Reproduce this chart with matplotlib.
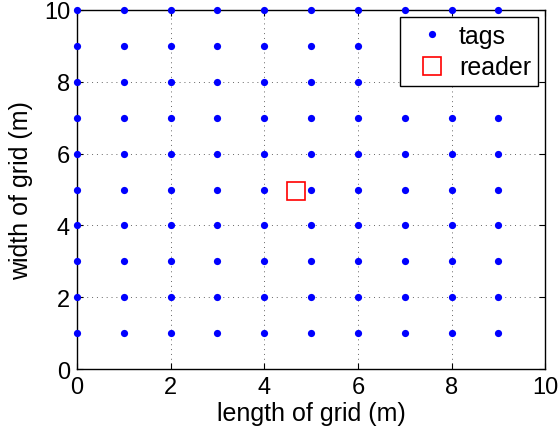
import matplotlib
matplotlib.use("Agg")
import matplotlib.pyplot as plt
import numpy as np

tag_x = [0, 1, 2, 3, 4, 5, 6, 7, 8, 9]
tag_y = [1, 2, 3, 4, 5, 6, 7, 8, 9, 10]
reader_x = [4.67]
reader_y = [4.96]
xticks = [0, 2, 4, 6, 8, 10]
yticks = [0, 2, 4, 6, 8, 10]

plt.rcParams['font.family'] = ['Liberation Sans', 'DejaVu Sans']

fig = plt.figure(figsize=(5.58, 4.31), dpi=100)
ax = fig.add_axes([0.138, 0.1415, 0.839, 0.833])

gx, gy = np.meshgrid(tag_x, tag_y)
ax.plot(gx.ravel(), gy.ravel(), 'o', color='#0000ff', markersize=5.2,
        markeredgewidth=0, linestyle='none', label='tags', clip_on=False, zorder=3)
ax.plot(reader_x, reader_y, 's', markerfacecolor='none', markeredgecolor='#ff0000',
        markersize=12.5, markeredgewidth=1.2, linestyle='none', label='reader', zorder=3)

ax.set_xlim(0, 10)
ax.set_ylim(0, 10)
ax.set_xticks(xticks)
ax.set_yticks(yticks)
ax.grid(True, linestyle=(0, (1, 4)), color='#666666', linewidth=0.7)
ax.tick_params(direction='in', top=True, right=True, labelsize=17, length=4, width=0.8, pad=5)
for s in ax.spines.values():
    s.set_linewidth(1.0)
ax.set_xlabel('length of grid (m)', fontsize=18, labelpad=2)
ax.set_ylabel('width of grid (m)', fontsize=18, labelpad=8)

leg = ax.legend(loc='upper right', fontsize=18, frameon=True, fancybox=False,
                edgecolor='black', framealpha=1, borderaxespad=0.28, handlelength=2.0,
                handletextpad=0.1, borderpad=0.28, labelspacing=0.3)
leg.get_frame().set_linewidth(1.0)

fig.savefig('out.png', dpi=100)
